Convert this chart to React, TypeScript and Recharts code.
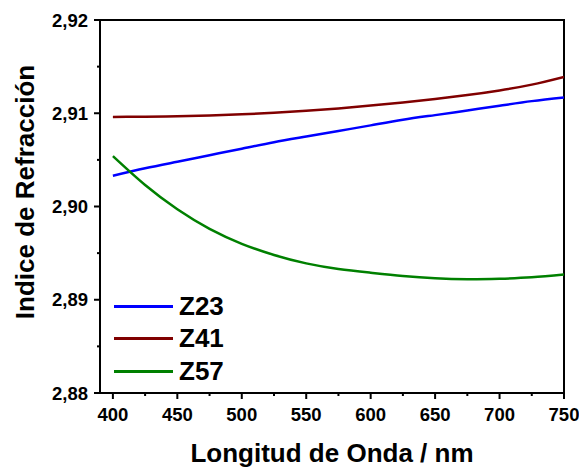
import { LineChart, Line, XAxis, YAxis, ReferenceArea } from "recharts"

const wavelengths = [400, 425, 450, 475, 500, 525, 550, 575, 600, 625, 650, 675, 700, 725, 750]
const z23 = [2.9033, 2.9041, 2.9048, 2.9055, 2.9062, 2.9069, 2.9075, 2.9081, 2.9087, 2.9093, 2.9098, 2.9103, 2.9108, 2.9113, 2.9117]
const z41 = [2.9096, 2.90963, 2.90968, 2.90976, 2.90988, 2.91005, 2.91026, 2.91052, 2.91082, 2.91115, 2.91152, 2.91195, 2.91245, 2.91307, 2.9139]
const z57 = [2.9054, 2.9023, 2.8997, 2.8976, 2.896, 2.8948, 2.8939, 2.8933, 2.8929, 2.89255, 2.8923, 2.8922, 2.89225, 2.8924, 2.8927]

const xTicks = [400, 425, 450, 475, 500, 525, 550, 575, 600, 625, 650, 675, 700, 725, 750]
const yTicks = [2.88, 2.885, 2.89, 2.895, 2.9, 2.905, 2.91, 2.915, 2.92]

const series = [
  { key: "z23", name: "Z23", color: "#0000ff" },
  { key: "z41", name: "Z41", color: "#800000" },
  { key: "z57", name: "Z57", color: "#008000" },
]

const data = wavelengths.map((wl, i) => ({ wl, z23: z23[i], z41: z41[i], z57: z57[i] }))

const FONT = "'Liberation Sans', Arial, sans-serif"

function XTick({ x, y, payload }: any) {
  const major = payload.value % 50 === 0
  return (
    <g>
      <rect x={x - 1} y={y} width={2} height={major ? 6 : 3} fill="#000" />
      {major && (
        <text x={x} y={y + 28} textAnchor="middle" fontSize={18.5} fontWeight="bold" fontFamily={FONT} fill="#000">
          {payload.value}
        </text>
      )}
    </g>
  )
}

function YTick({ x, y, payload }: any) {
  const major = Math.round(payload.value * 1000) % 10 === 0
  return (
    <g>
      <rect x={x - (major ? 6 : 3)} y={y - 1} width={major ? 6 : 3} height={2} fill="#000" />
      {major && (
        <text x={x - 12} y={y + 6.5} textAnchor="end" fontSize={18.5} fontWeight="bold" fontFamily={FONT} fill="#000">
          {payload.value.toFixed(2).replace(".", ",")}
        </text>
      )}
    </g>
  )
}

export default function App() {
  return (
    <div style={{ position: "absolute", left: 0, top: 0, width: 579, height: 468, background: "#fff" }}>
      <LineChart width={579} height={468} data={data} margin={{ top: 20, right: 15, left: 0, bottom: 0 }}>
        <XAxis
          dataKey="wl"
          type="number"
          domain={[390, 750]}
          ticks={xTicks}
          allowDataOverflow
          height={75}
          tickSize={0}
          tickMargin={0}
          tickLine={false}
          tick={<XTick />}
          axisLine={false}
          interval={0}
          label={{
            content: () => (
              <text x={332} y={462} textAnchor="middle" fontSize={26} fontWeight="bold" fontFamily={FONT} fill="#000">
                Longitud de Onda / nm
              </text>
            ),
          }}
        />
        <YAxis
          type="number"
          domain={[2.88, 2.92]}
          ticks={yTicks}
          allowDataOverflow
          width={100}
          tickSize={0}
          tickMargin={0}
          tickLine={false}
          tick={<YTick />}
          interval={0}
          axisLine={false}
          label={{
            content: () => (
              <text transform="translate(34,192) rotate(-90)" textAnchor="middle" fontSize={26} fontWeight="bold" fontFamily={FONT} fill="#000">
                Indice de Refracción
              </text>
            ),
          }}
        />
        <ReferenceArea x1={390} x2={750} y1={2.88} y2={2.92} fill="none" fillOpacity={0} stroke="#000" strokeOpacity={1} strokeWidth={2} ifOverflow="visible" />
        {series.map((s) => (
          <Line key={s.key} dataKey={s.key} type="natural" stroke={s.color} strokeWidth={2.5} dot={false} isAnimationActive={false} />
        ))}
      </LineChart>
      <div style={{ position: "absolute", left: 114, top: 290, fontFamily: FONT }}>
        {series.map((s) => (
          <div key={s.key} style={{ display: "flex", alignItems: "center", height: 32.5 }}>
            <div style={{ width: 59, height: 3, background: s.color, marginRight: 6 }} />
            <span style={{ fontSize: 26, fontWeight: "bold", color: "#000" }}>{s.name}</span>
          </div>
        ))}
      </div>
    </div>
  )
}
